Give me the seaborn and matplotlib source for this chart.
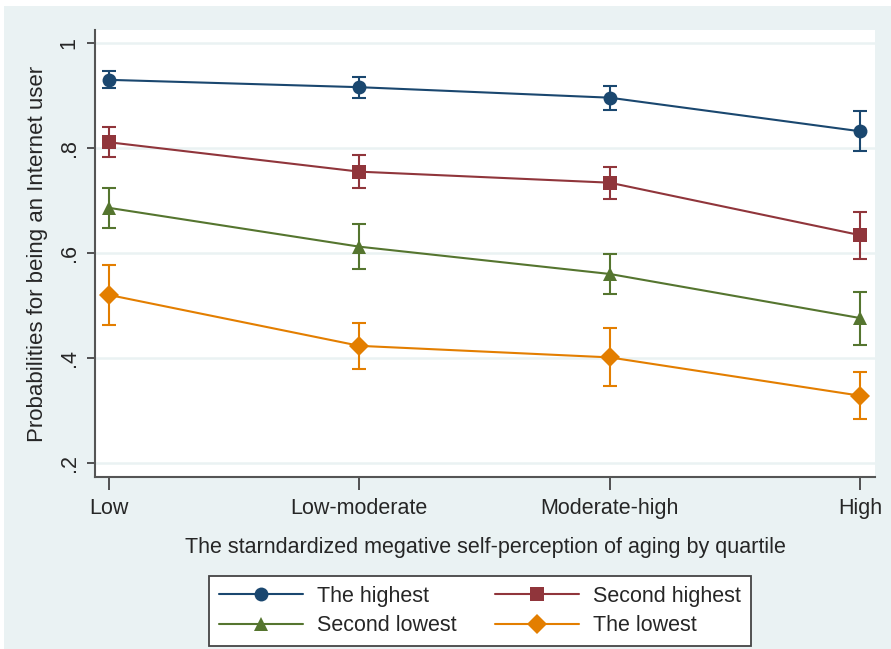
import numpy as np
import pandas as pd
import matplotlib
matplotlib.use("Agg")
import matplotlib.pyplot as plt
from matplotlib.patches import Rectangle
import seaborn as sns

# Valores
categorias = ["Low", "Low-moderate", "Moderate-high", "High"]
grupos = ["The highest", "Second highest", "Second lowest", "The lowest"]

p_highest = [0.930, 0.916, 0.896, 0.832]
lo_highest = [0.914, 0.896, 0.872, 0.794]
hi_highest = [0.947, 0.935, 0.919, 0.870]

p_second_high = [0.811, 0.755, 0.734, 0.634]
lo_second_high = [0.782, 0.724, 0.703, 0.589]
hi_second_high = [0.841, 0.787, 0.764, 0.679]

p_second_low = [0.686, 0.612, 0.560, 0.476]
lo_second_low = [0.648, 0.569, 0.521, 0.424]
hi_second_low = [0.723, 0.655, 0.599, 0.526]

p_lowest = [0.520, 0.423, 0.401, 0.328]
lo_lowest = [0.462, 0.378, 0.347, 0.283]
hi_lowest = [0.577, 0.467, 0.457, 0.373]

colores = ["#1A476F", "#90353B", "#55752F", "#E37E00"]
marcadores = ["o", "s", "^", "D"]

series = [(p_highest, lo_highest, hi_highest),
          (p_second_high, lo_second_high, hi_second_high),
          (p_second_low, lo_second_low, hi_second_low),
          (p_lowest, lo_lowest, hi_lowest)]

filas = []
for g, (p, lo, hi) in zip(grupos, series):
    for i, c in enumerate(categorias):
        filas.append({"grupo": g, "x": i, "prob": p[i], "lo": lo[i], "hi": hi[i]})
df = pd.DataFrame(filas)

sns.set_style("white")
plt.rcParams["font.family"] = ["Liberation Sans", "DejaVu Sans"]
fs = 15.5

fondo = "#EAF2F3"
fig = plt.figure(figsize=(8.91, 6.49), dpi=100)
fig.patches.append(Rectangle((4 / 891, 0), 1, 1 - 6 / 649, transform=fig.transFigure,
                             facecolor=fondo, edgecolor="none", zorder=-10))
ax = fig.add_axes([95 / 891, 1 - 477 / 649, (875 - 95) / 891, (477 - 30) / 649])
ax.set_facecolor("white")

for g, col in zip(grupos, colores):
    d = df[df["grupo"] == g]
    ax.errorbar(d["x"], d["prob"], yerr=[d["prob"] - d["lo"], d["hi"] - d["prob"]],
                fmt="none", ecolor=col, elinewidth=1.5, capsize=5, capthick=1.5, zorder=2)

sns.lineplot(data=df, x="x", y="prob", hue="grupo", style="grupo",
             hue_order=grupos, style_order=grupos,
             palette=dict(zip(grupos, colores)),
             markers=dict(zip(grupos, marcadores)), dashes=False,
             linewidth=1.5, markersize=10, markeredgewidth=0,
             legend=False, ax=ax, zorder=3)

ax.set_xlim(-0.056, 3.06)
ax.set_ylim(0.173, 1.025)
ax.set_xticks(range(len(categorias)))
ax.set_xticklabels(categorias, fontsize=fs)
ax.set_yticks([0.2, 0.4, 0.6, 0.8, 1.0])
ax.set_yticklabels([".2", ".4", ".6", ".8", "1"], fontsize=fs, rotation=90, va="center")
ax.tick_params(axis="x", bottom=True, direction="out", length=9, width=1.3, color="#444444", pad=6)
ax.tick_params(axis="y", left=True, direction="out", length=6, width=1.3, color="#444444", pad=5)
ax.grid(axis="y", color=fondo, linewidth=1.8)
ax.set_axisbelow(True)
for s in ["top", "right"]:
    ax.spines[s].set_visible(False)
for s in ["left", "bottom"]:
    ax.spines[s].set_color("#555555")
    ax.spines[s].set_linewidth(1.5)

ax.set_xlabel("The starndardized megative self-perception of aging by quartile", fontsize=fs, labelpad=13)
ax.set_ylabel("Probabilities for being an Internet user", fontsize=16, labelpad=8)

# leyenda en dos columnas, rellenada por filas
orden = [0, 2, 1, 3]
handles = [plt.Line2D([], [], color=colores[i], marker=marcadores[i], markersize=10,
                      markeredgewidth=0, linewidth=1.5) for i in orden]
etiquetas = [grupos[i] for i in orden]
leg = fig.legend(handles, etiquetas, loc="center", bbox_to_anchor=(480 / 891, 1 - 611 / 649),
                 ncol=2, fontsize=fs, frameon=True, fancybox=False, handlelength=3.9,
                 columnspacing=1.8, handletextpad=0.65, borderpad=0.45, labelspacing=0.4)
leg.get_frame().set_edgecolor("#444444")
leg.get_frame().set_linewidth(1.3)
leg.get_frame().set_facecolor("white")
leg.get_frame().set_alpha(1)

fig.savefig("out.png", dpi=100)
